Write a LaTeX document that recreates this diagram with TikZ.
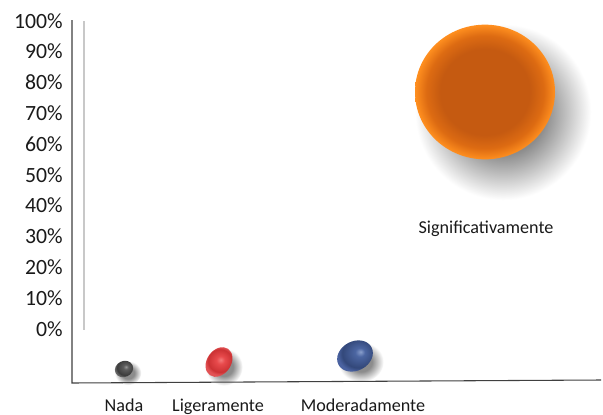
\documentclass[tikz,border=0pt]{standalone}
\usepackage{fontspec}
\setmainfont{Carlito}
\definecolor{ordark}{HTML}{C55A11}
\definecolor{ormid}{HTML}{DD6B12}
\definecolor{orlight}{HTML}{FF8F1F}
\definecolor{axisc}{HTML}{404040}
\definecolor{gridc}{HTML}{C8C8C8}
\definecolor{txt}{HTML}{1A1A1A}
\definecolor{ghl}{HTML}{9A9A9A}\definecolor{gmid}{HTML}{5E5E5E}\definecolor{gdk}{HTML}{3C3C3C}\definecolor{grim}{HTML}{6A6A6A}
\definecolor{rhl}{HTML}{F47A7A}\definecolor{rmid}{HTML}{E84A4C}\definecolor{rdk}{HTML}{CC3234}\definecolor{rrim}{HTML}{E25254}
\definecolor{bhl}{HTML}{8A9FCC}\definecolor{bmid}{HTML}{4C66A2}\definecolor{bdk}{HTML}{33487A}\definecolor{brim}{HTML}{4A62A0}
\definecolor{shd}{HTML}{8C8C8C}
\pgfdeclareradialshading{orangeball}{\pgfpoint{0bp}{0bp}}{color(0bp)=(ordark); color(16bp)=(ordark); color(21bp)=(ormid); color(25bp)=(orlight); color(50bp)=(orlight)}
\pgfdeclareradialshading{grayball}{\pgfpoint{5bp}{6bp}}{color(0bp)=(ghl); color(6bp)=(gmid); color(20bp)=(gdk); color(25bp)=(grim); color(50bp)=(grim)}
\pgfdeclareradialshading{redball}{\pgfpoint{3bp}{4bp}}{color(0bp)=(rhl); color(7bp)=(rmid); color(20bp)=(rdk); color(25bp)=(rrim); color(50bp)=(rrim)}
\pgfdeclareradialshading{blueball}{\pgfpoint{7bp}{6bp}}{color(0bp)=(bhl); color(6bp)=(bmid); color(20bp)=(bdk); color(25bp)=(brim); color(50bp)=(brim)}
\pgfdeclareradialshading{shadowblob}{\pgfpoint{0bp}{0bp}}{color(0bp)=(shd); color(12bp)=(shd); color(25bp)=(white); color(50bp)=(white)}
\tikzset{
  ticklbl/.style={anchor=base east, font=\fontsize{16.3pt}{19pt}\selectfont, text=txt, inner sep=0pt},
  catlbl/.style={anchor=base, font=\fontsize{13.6pt}{16pt}\selectfont, text=txt, inner sep=0pt},
  shadowfill/.style={shading=shadowblob},
}
\begin{document}
\begin{tikzpicture}[x=0.75pt,y=-0.75pt]
\useasboundingbox[fill=white] (0,0) rectangle (603,414);
% shadows
\path[shadowfill] (503,112) ellipse [x radius=66pt, y radius=66pt];
\path[shadowfill] (128,373) ellipse [x radius=10pt, y radius=9pt];
\path[shadowfill] (224,367) ellipse [x radius=14pt, y radius=14pt];
\path[shadowfill] (361,362) ellipse [x radius=17pt, y radius=15pt];
% axes
\draw[gridc, line width=1.2pt] (84,21) -- (84,330);
\coordinate (otop) at (72,20);
\coordinate (orig) at (72,383);
\coordinate (xend) at (601,380);
\draw[axisc, line width=0.8pt] (otop) -- (orig) -- (xend);
% tick labels
\foreach \v [count=\i from 0] in {0,10,...,100}{
  \node[ticklbl] (t\v) at (63,{329.5-30.8*\i+6.5}) {\v\%};
}
% bubbles
\path[shading=orangeball] (485,92) ellipse [x radius=52.5pt, y radius=50.5pt];
\path[shading=grayball, rotate around={25:(124,369)}] (124,369) ellipse [x radius=7pt, y radius=6pt];
\path[shading=redball, rotate around={55:(219,362)}] (219,362) ellipse [x radius=12pt, y radius=9pt];
\path[shading=blueball, rotate around={28:(355,356)}] (355,356) ellipse [x radius=14pt, y radius=11pt];
% labels
\node[catlbl] (nada) at (124,411) {Nada};
\node[catlbl] (lig) at (218,411) {Ligeramente};
\node[catlbl] (mod) at (363,411) {Moderadamente};
\node[catlbl] (sig) at (486,233) {Significativamente};
\end{tikzpicture}
\end{document}
